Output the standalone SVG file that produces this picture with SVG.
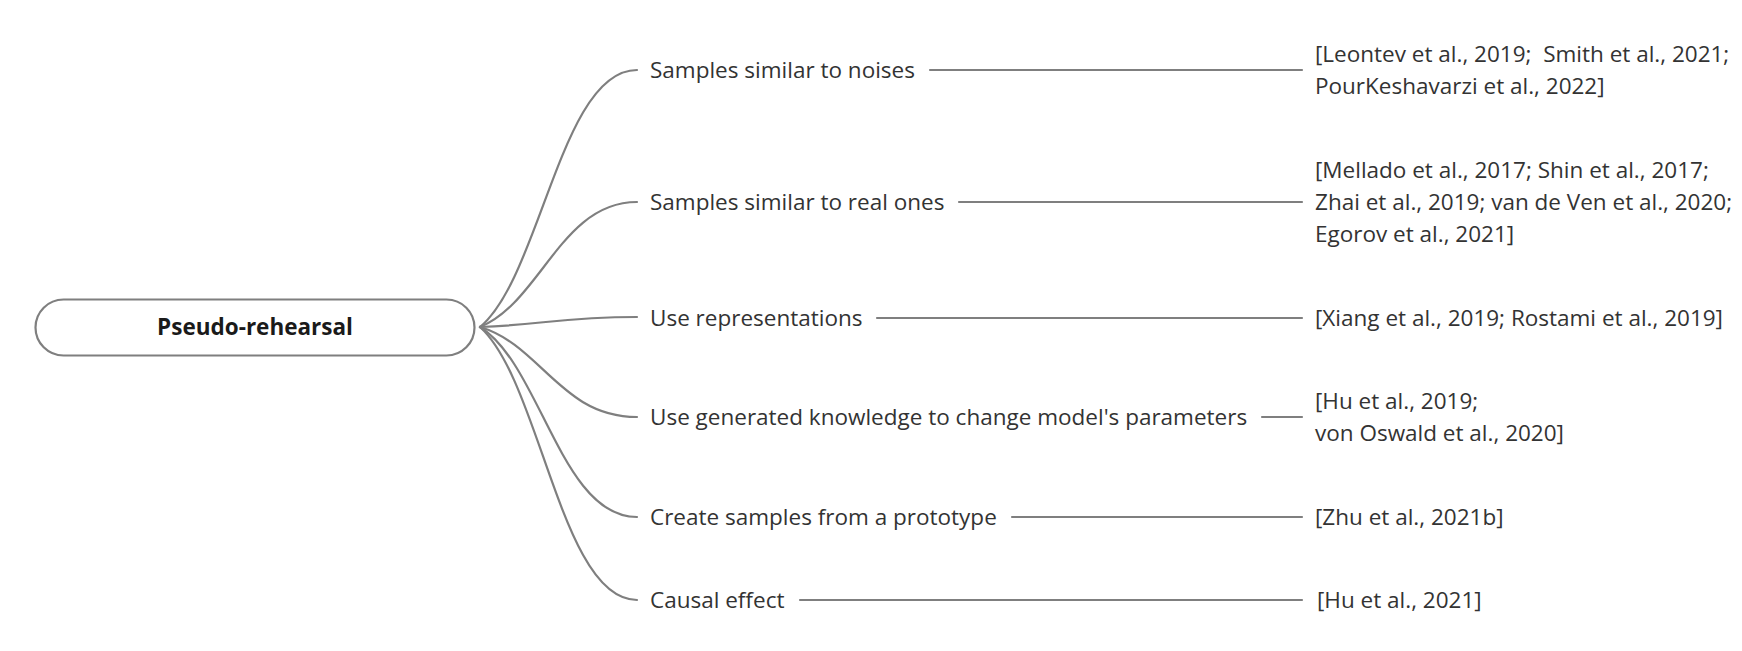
<svg xmlns="http://www.w3.org/2000/svg" width="1742" height="651" viewBox="0 0 1742 651">
<defs>
<style>
.conn{fill:none;stroke:#7f7f7f;stroke-width:2.2;stroke-linecap:round}
.t{font-family:"Open Sans","Noto Sans","Liberation Sans",sans-serif;font-size:22.5px;fill:#333333}
.root{font-family:"Open Sans","Noto Sans","Liberation Sans",sans-serif;font-size:22.5px;font-weight:bold;fill:#1a1a1a}
</style>
</defs>
<rect width="1742" height="651" fill="#ffffff"/>
<g id="connectors">
<path class="conn" d="M480,327 C541,276 561,70 637,70"/>
<path class="conn" d="M480,327 C541,302 561,202 637,202"/>
<path class="conn" d="M480,327 C541,325 561,317 637,317"/>
<path class="conn" d="M480,327 C541,345 561,417 637,417"/>
<path class="conn" d="M480,327 C541,365 561,517 637,517"/>
<path class="conn" d="M480,327 C541,382 561,600 637,600"/>
<line class="conn" x1="930" y1="70" x2="1302" y2="70"/>
<line class="conn" x1="959" y1="202" x2="1302" y2="202"/>
<line class="conn" x1="877" y1="318" x2="1302" y2="318"/>
<line class="conn" x1="1262" y1="417" x2="1302" y2="417"/>
<line class="conn" x1="1012" y1="517" x2="1302" y2="517"/>
<line class="conn" x1="800" y1="600" x2="1302" y2="600"/>
</g>
<g id="root">
<rect x="35.5" y="299.5" width="439" height="56" rx="28" fill="#ffffff" stroke="#7f7f7f" stroke-width="2.2"/>
<text class="root" x="255" y="326" text-anchor="middle" dominant-baseline="central">Pseudo-rehearsal</text>
</g>
<g id="b1"><text class="t" x="650" y="69" dominant-baseline="central">Samples similar to noises</text></g>
<g id="b2"><text class="t" x="650" y="201" dominant-baseline="central">Samples similar to real ones</text></g>
<g id="b3"><text class="t" x="650" y="317" dominant-baseline="central">Use representations</text></g>
<g id="b4"><text class="t" x="650" y="416" dominant-baseline="central">Use generated knowledge to change model's parameters</text></g>
<g id="b5"><text class="t" x="650" y="516" dominant-baseline="central">Create samples from a prototype</text></g>
<g id="b6"><text class="t" x="650" y="599" dominant-baseline="central">Causal effect</text></g>
<g id="r1"><text class="t" x="1315" y="53" dominant-baseline="central" xml:space="preserve">[Leontev et al., 2019;  Smith et al., 2021;</text><text class="t" x="1315" y="85" dominant-baseline="central">PourKeshavarzi et al., 2022]</text></g>
<g id="r2"><text class="t" x="1315" y="169" dominant-baseline="central">[Mellado et al., 2017; Shin et al., 2017;</text><text class="t" x="1315" y="201" dominant-baseline="central">Zhai et al., 2019; van de Ven et al., 2020;</text><text class="t" x="1315" y="233" dominant-baseline="central">Egorov et al., 2021]</text></g>
<g id="r3"><text class="t" x="1315" y="317" dominant-baseline="central">[Xiang et al., 2019; Rostami et al., 2019]</text></g>
<g id="r4"><text class="t" x="1315" y="400" dominant-baseline="central">[Hu et al., 2019;</text><text class="t" x="1315" y="432" dominant-baseline="central">von Oswald et al., 2020]</text></g>
<g id="r5"><text class="t" x="1315" y="516" dominant-baseline="central">[Zhu et al., 2021b]</text></g>
<g id="r6"><text class="t" x="1317" y="599" dominant-baseline="central">[Hu et al., 2021]</text></g>
</svg>
